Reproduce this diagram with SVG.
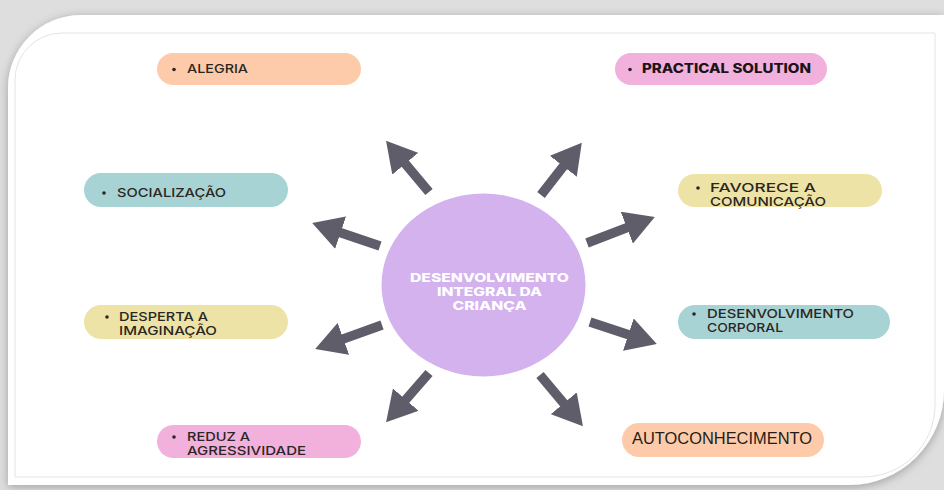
<svg xmlns="http://www.w3.org/2000/svg" width="944" height="490" viewBox="0 0 944 490">
  <defs>
    <filter id="cardShadow" x="-5%" y="-5%" width="110%" height="110%">
      <feDropShadow dx="0" dy="2" stdDeviation="5" flood-color="#000" flood-opacity="0.28"/>
    </filter>
    <marker id="head" markerUnits="userSpaceOnUse" markerWidth="30" markerHeight="34" viewBox="0 0 30 34" refX="17" refY="17" orient="auto">
      <path d="M0,0 L30,17 L0,34 Z" fill="#5f5d69"/>
    </marker>
    <style>
      .peach { fill: #fdcba9; }
      .pink { fill: #f1b1dc; }
      .teal { fill: #a8d3d4; }
      .sand { fill: #ede3a7; }
      .lbl { font-family: Inter, "Liberation Sans", sans-serif; font-size: 12.2px; font-weight: 500; fill: #2b2622; }
      .bold { font-size: 12.8px; font-weight: 800; fill: #1c1416; }
      .plain { font-family: "Liberation Sans", Arial, sans-serif; font-size: 16.5px; font-weight: 400; fill: #231d1a; }
      .dot { fill: #2b2622; }
      .hub { font-family: Inter, "Liberation Sans", sans-serif; font-size: 11.7px; font-weight: 800; fill: #ffffff; text-anchor: middle; }
      .arrow { stroke: #5f5d69; stroke-width: 9.5; fill: none; marker-end: url(#head); }
    </style>
  </defs>

  <!-- backdrop and card -->
  <rect x="0" y="0" width="944" height="490" fill="#dedede"/>
  <path d="M8,480 V88 A73,73 0 0 1 81,15 H944 V390 A95,95 0 0 1 849,485 H8 Z" fill="#ffffff" filter="url(#cardShadow)"/>
  <path d="M15,477 V80 A47,47 0 0 1 62,33 H935 V405 A72,72 0 0 1 863,477 Z" fill="none" stroke="#e4e4e4" stroke-width="1"/>

  <!-- connectors -->
  <g id="connectors">
    <line class="arrow" x1="429" y1="192" x2="394.4" y2="150.7"/>
    <line class="arrow" x1="541" y1="195" x2="573.8" y2="152.9"/>
    <line class="arrow" x1="380" y1="246" x2="324.5" y2="227.2"/>
    <line class="arrow" x1="587" y1="243" x2="642.7" y2="221.6"/>
    <line class="arrow" x1="382" y1="325" x2="327.4" y2="344.6"/>
    <line class="arrow" x1="590" y1="322" x2="644.5" y2="339.9"/>
    <line class="arrow" x1="429" y1="373" x2="394.6" y2="412.5"/>
    <line class="arrow" x1="540" y1="375" x2="574.6" y2="416.3"/>
  </g>

  <!-- central node -->
  <g id="hub">
    <ellipse cx="483.5" cy="285" rx="102" ry="91.5" fill="#d3b2ee"/>
    <text class="hub" x="489.5" y="281.5" textLength="159" lengthAdjust="spacingAndGlyphs">DESENVOLVIMENTO</text>
    <text class="hub" x="489.5" y="295.7" textLength="105" lengthAdjust="spacingAndGlyphs">INTEGRAL DA</text>
    <text class="hub" x="489.5" y="309.9" textLength="74" lengthAdjust="spacingAndGlyphs">CRIANÇA</text>
  </g>

  <g id="alegria">
    <rect class="peach" x="157" y="53" width="204" height="32" rx="16"/>
    <circle class="dot" cx="174" cy="69.5" r="1.8"/>
    <text class="lbl" x="187" y="73" textLength="61" lengthAdjust="spacingAndGlyphs">ALEGRIA</text>
  </g>

  <g id="practical-solution">
    <rect class="pink" x="615" y="53" width="212" height="32" rx="16"/>
    <circle class="dot" cx="630" cy="69.5" r="1.8"/>
    <text class="lbl bold" x="642" y="73" textLength="169" lengthAdjust="spacingAndGlyphs">PRACTICAL SOLUTION</text>
  </g>

  <g id="socializacao">
    <rect class="teal" x="84" y="173" width="204" height="34" rx="17"/>
    <circle class="dot" cx="104" cy="193" r="1.8"/>
    <text class="lbl" x="117" y="197" textLength="109" lengthAdjust="spacingAndGlyphs">SOCIALIZAÇÃO</text>
  </g>

  <g id="favorece-comunicacao">
    <rect class="sand" x="678" y="174" width="204" height="33" rx="16.5"/>
    <circle class="dot" cx="698" cy="188" r="1.8"/>
    <text class="lbl" x="710" y="192" textLength="106" lengthAdjust="spacingAndGlyphs">FAVORECE A</text>
    <text class="lbl" x="710" y="206" textLength="116" lengthAdjust="spacingAndGlyphs">COMUNICAÇÃO</text>
  </g>

  <g id="desperta-imaginacao">
    <rect class="sand" x="84" y="305" width="204" height="34" rx="17"/>
    <circle class="dot" cx="107" cy="317" r="1.8"/>
    <text class="lbl" x="119" y="321" textLength="89" lengthAdjust="spacingAndGlyphs">DESPERTA A</text>
    <text class="lbl" x="119" y="335" textLength="98" lengthAdjust="spacingAndGlyphs">IMAGINAÇÃO</text>
  </g>

  <g id="desenvolvimento-corporal">
    <rect class="teal" x="678" y="305" width="212" height="34" rx="17"/>
    <circle class="dot" cx="694" cy="314" r="1.8"/>
    <text class="lbl" x="707" y="318" textLength="147" lengthAdjust="spacingAndGlyphs">DESENVOLVIMENTO</text>
    <text class="lbl" x="707" y="332" textLength="76" lengthAdjust="spacingAndGlyphs">CORPORAL</text>
  </g>

  <g id="reduz-agressividade">
    <rect class="pink" x="157" y="425" width="204" height="33" rx="16.5"/>
    <circle class="dot" cx="174" cy="437" r="1.8"/>
    <text class="lbl" x="187" y="441" textLength="63" lengthAdjust="spacingAndGlyphs">REDUZ A</text>
    <text class="lbl" x="187" y="455" textLength="119" lengthAdjust="spacingAndGlyphs">AGRESSIVIDADE</text>
  </g>

  <g id="autoconhecimento">
    <rect class="peach" x="622" y="423" width="202" height="34" rx="17"/>
    <text class="plain" x="632" y="444" textLength="180" lengthAdjust="spacingAndGlyphs">AUTOCONHECIMENTO</text>
  </g>
</svg>
